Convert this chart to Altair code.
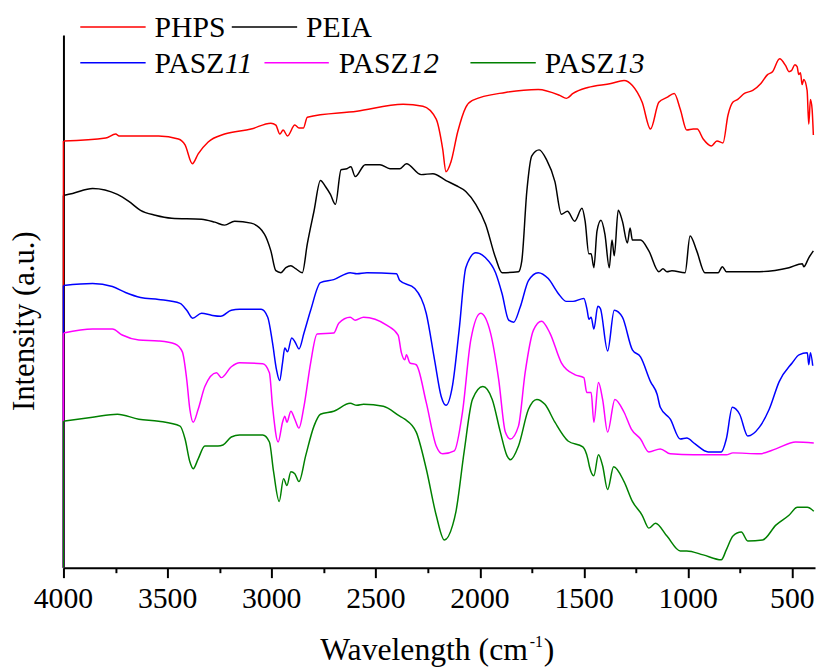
import altair as alt
import pandas as pd

# ---- data: (wavenumber cm-1, intensity a.u.) ----
PHPS = [(4000, 431), (3797, 434), (3749, 438), (3733, 436), (3543, 436), (3448, 433),
        (3416, 427), (3381, 408), (3353, 418), (3305, 430), (3226, 438), (3099, 443), (3004, 449),
        (2980, 447), (2961, 438), (2945, 442), (2924, 436), (2889, 447), (2869, 444), (2848, 444),
        (2829, 455), (2591, 461), (2369, 468), (2274, 466), (2210, 453), (2179, 423), (2163, 400),
        (2139, 410), (2107, 440), (2068, 465), (2036, 472), (1878, 480), (1720, 483), (1617, 477),
        (1585, 474), (1553, 479), (1482, 485), (1371, 489), (1308, 492), (1268, 487), (1221, 470),
        (1181, 443), (1141, 470), (1102, 475), (1067, 479), (1038, 463), (1007, 442), (976, 443),
        (957, 443), (928, 433), (889, 426), (862, 431), (833, 429), (809, 457), (786, 470),
        (762, 473), (730, 479), (690, 482), (651, 489), (619, 498), (595, 501), (561, 514),
        (532, 507), (516, 501), (504, 502), (488, 508), (477, 506), (469, 498), (461, 500),
        (453, 488), (445, 493), (429, 482), (421, 448), (413, 473), (405, 463), (399, 437)]

PEIA = [(4000, 376), (3956, 378), (3860, 383), (3741, 377), (3686, 370), (3630, 361),
        (3559, 356), (3480, 353), (3337, 352), (3273, 349), (3226, 346), (3178, 350), (3099, 348),
        (3035, 337), (3004, 320), (2980, 300), (2956, 298), (2932, 303), (2908, 305), (2885, 302),
        (2853, 298), (2829, 327), (2797, 360), (2766, 391), (2742, 385), (2718, 377), (2694, 367),
        (2667, 402), (2639, 403), (2620, 405), (2599, 395), (2551, 407), (2480, 407), (2432, 403),
        (2385, 403), (2353, 408), (2282, 397), (2226, 398), (2163, 391), (2115, 386), (2068, 380),
        (2020, 367), (1973, 347), (1925, 313), (1894, 298), (1815, 299), (1799, 310), (1775, 380),
        (1751, 416), (1716, 422), (1680, 412), (1640, 390), (1609, 357), (1580, 360), (1545, 350),
        (1510, 363), (1495, 350), (1477, 317), (1466, 317), (1453, 303), (1438, 340), (1419, 351),
        (1400, 337), (1379, 303), (1366, 331), (1355, 315), (1336, 361), (1316, 350), (1292, 328),
        (1279, 343), (1268, 331), (1229, 331), (1189, 320), (1141, 299), (1121, 302), (1102, 299),
        (1078, 300), (1015, 298), (991, 335), (959, 320), (920, 298), (856, 298), (836, 304),
        (817, 299), (658, 299), (516, 303), (452, 307), (445, 304), (421, 313), (399, 320)]

PASZ11 = [(4000, 285), (3860, 287), (3765, 284), (3702, 278), (3630, 273), (3543, 271),
          (3440, 267), (3408, 260), (3380, 252), (3337, 257), (3289, 255), (3245, 254), (3194, 260),
          (3154, 261), (3051, 261), (3019, 253), (2996, 227), (2977, 200), (2962, 189), (2948, 207),
          (2937, 222), (2924, 218), (2904, 232), (2888, 228), (2869, 221), (2845, 237), (2813, 260),
          (2766, 288), (2702, 291), (2623, 298), (2591, 297), (2543, 298), (2401, 297), (2385, 290),
          (2313, 282), (2258, 257), (2218, 210), (2186, 173), (2163, 164), (2131, 185), (2100, 240),
          (2068, 303), (2020, 318), (1973, 313), (1925, 298), (1894, 277), (1862, 250), (1838, 248),
          (1807, 263), (1767, 290), (1720, 298), (1672, 292), (1624, 277), (1585, 269), (1553, 269),
          (1501, 272), (1485, 260), (1477, 251), (1466, 253), (1453, 241), (1434, 264), (1422, 262),
          (1387, 219), (1355, 260), (1316, 253), (1268, 220), (1229, 213), (1181, 188), (1149, 175),
          (1134, 162), (1086, 150), (1038, 130), (1007, 131), (967, 125), (904, 117), (841, 117),
          (817, 130), (788, 162), (753, 155), (714, 133), (658, 142), (611, 160), (563, 188),
          (500, 207), (468, 215), (428, 217), (421, 205), (413, 217), (402, 204)]

PASZ12 = [(4000, 237), (3860, 241), (3765, 241), (3718, 235), (3638, 230), (3543, 229),
          (3464, 226), (3429, 218), (3408, 190), (3393, 160), (3377, 147), (3353, 160), (3321, 183),
          (3265, 197), (3242, 192), (3194, 203), (3154, 207), (3043, 206), (3011, 197), (2996, 163),
          (2969, 127), (2948, 147), (2937, 153), (2927, 147), (2908, 158), (2889, 150), (2869, 141),
          (2845, 163), (2813, 207), (2782, 236), (2702, 237), (2678, 247), (2623, 253), (2599, 250),
          (2559, 253), (2448, 245), (2393, 235), (2377, 217), (2361, 210), (2353, 215), (2337, 207),
          (2306, 205), (2258, 167), (2210, 123), (2179, 115), (2123, 118), (2084, 157), (2044, 230),
          (1997, 257), (1949, 237), (1910, 190), (1878, 137), (1854, 130), (1815, 143), (1783, 197),
          (1743, 240), (1704, 249), (1664, 237), (1609, 207), (1545, 195), (1501, 192), (1487, 177),
          (1466, 177), (1453, 147), (1431, 187), (1411, 170), (1387, 137), (1352, 170), (1308, 157),
          (1273, 140), (1229, 130), (1189, 117), (1134, 120), (1086, 115), (975, 114), (817, 114),
          (785, 116), (658, 115), (579, 120), (484, 127), (397, 126)]

PASZ13 = [(4000, 148), (3860, 152), (3741, 155), (3638, 150), (3543, 148), (3440, 143),
          (3416, 130), (3393, 107), (3377, 100), (3353, 110), (3321, 123), (3258, 123), (3234, 124),
          (3194, 132), (3154, 134), (3043, 134), (3011, 127), (2991, 97), (2964, 67), (2943, 90),
          (2927, 83), (2908, 97), (2889, 95), (2869, 87), (2837, 113), (2797, 143), (2766, 155),
          (2702, 158), (2623, 166), (2591, 164), (2559, 165), (2464, 163), (2385, 153), (2361, 150),
          (2306, 137), (2258, 100), (2210, 53), (2171, 28), (2131, 43), (2115, 57), (2076, 117),
          (2036, 170), (1986, 183), (1941, 170), (1902, 137), (1870, 113), (1854, 109), (1815, 123),
          (1767, 160), (1727, 170), (1688, 165), (1640, 147), (1577, 128), (1506, 122), (1482, 110),
          (1474, 102), (1453, 93), (1431, 114), (1411, 103), (1387, 79), (1358, 102), (1308, 87),
          (1268, 67), (1221, 53), (1189, 40), (1157, 45), (1102, 32), (1038, 17), (1007, 17),
          (928, 13), (841, 8), (817, 18), (785, 32), (745, 36), (714, 27), (643, 28), (579, 43),
          (516, 53), (476, 61), (428, 61), (397, 57)]

series_names = ["PHPS", "PEIA", "PASZ11", "PASZ12", "PASZ13"]
series_colors = ["#ff0000", "#000000", "#0000ff", "#ff00ff", "#008000"]
series_data = [PHPS, PEIA, PASZ11, PASZ12, PASZ13]
draw_order = ["PEIA", "PHPS", "PASZ11", "PASZ12", "PASZ13"]

x_ticks_all = [4000, 3750, 3500, 3250, 3000, 2750, 2500, 2250, 2000, 1750, 1500, 1250, 1000, 750, 500]
x_tick_labels = [4000, 3500, 3000, 2500, 2000, 1500, 1000, 500]

rows = []
for name, pts in zip(series_names, series_data):
    for i, (w, v) in enumerate(pts):
        rows.append({"series": name, "wn": w, "inten": v, "i": i})
df = pd.DataFrame(rows)

FONT = "Liberation Serif"
W, H = 759, 538

x_axis = alt.Axis(
    values=x_ticks_all, labels=False, title=None, grid=False,
    tickSize={"condition": {"test": "datum.value % 500 != 0", "value": 5}, "value": 10},
    tickWidth=2, tickColor="black", domainWidth=2, domainColor="black",
)
y_axis = alt.Axis(ticks=False, labels=False, grid=False, title=None,
                  domainWidth=2, domainColor="black")

xs = alt.Scale(domain=[4000, 391], nice=False, zero=False)
ys = alt.Scale(domain=[0, H], nice=False, zero=False)
X = alt.X("wn:Q", scale=xs, axis=x_axis)
Y = alt.Y("inten:Q", scale=ys, axis=y_axis)

layers = []
for name in draw_order:
    c = series_colors[series_names.index(name)]
    sub = df[df.series == name]
    start = sub[sub.i == 0].assign(base=0)
    # vertical drop of each trace to the baseline at 4000 cm-1
    layers.append(
        alt.Chart(start).mark_rule(color=c, strokeWidth=1.5).encode(
            x=X, y=Y, y2=alt.Y2("base:Q"))
    )
    layers.append(
        alt.Chart(sub).mark_line(color=c, strokeWidth=1.5, clip=True, interpolate="monotone").encode(
            x=X, y=Y, order=alt.Order("i:Q"))
    )

# ---- tick labels and axis titles as text marks ----
lab_df = pd.DataFrame({"wn": x_tick_labels, "lab": [str(v) for v in x_tick_labels]})
layers.append(alt.Chart(lab_df).mark_text(
    font=FONT, fontSize=30, color="black", align="center", baseline="alphabetic").encode(
    x=alt.X("wn:Q", scale=xs), y=alt.value(H + 41), text="lab:N"))

one = alt.InlineData(values=[{"k": 0}])

def txt(s, x, y, size=30, style="normal", align="left", angle=0):
    return alt.Chart(one).mark_text(
        font=FONT, fontSize=size, fontStyle=style, color="black", align=align,
        baseline="alphabetic", angle=angle).encode(
        x=alt.value(x), y=alt.value(y), text=alt.value(s))

layers.append(txt("Wavelength (cm", 469, 631, size=32, align="right"))
layers.append(txt("-1", 471, 618, size=16))
layers.append(txt(")", 485, 631, size=32))
layers.append(txt("Intensity (a.u.)", -30, 289, size=31, align="center", angle=270))

# ---- legend (two rows, placed above plot area) ----
legend_items = [
    # name, color, line x0, line x1, line y, text x, text y, italic suffix
    ("PHPS", "#ff0000", 17, 83, -8, 92, 2, ""),
    ("PEIA", "#000000", 170, 236, -8, 245, 2, ""),
    ("PASZ", "#0000ff", 17, 83, 28, 92, 38, "11"),
    ("PASZ", "#ff00ff", 203, 268, 28, 278, 38, "12"),
    ("PASZ", "#008000", 411, 477, 28, 486, 38, "13"),
]
for t, c, x0, x1, ly, tx, ty, ital in legend_items:
    layers.append(alt.Chart(one).mark_rule(color=c, strokeWidth=1.5).encode(
        x=alt.value(x0), x2=alt.value(x1), y=alt.value(ly)))
    layers.append(txt(t, tx, ty))
    if ital:
        layers.append(txt(ital, tx + 71, ty, style="italic"))

chart = alt.layer(*layers).properties(
    width=W, height=H,
    autosize=alt.AutoSizeParams(type="none"),
    padding={"left": 56, "top": 24, "right": 2, "bottom": 100},
).configure_view(stroke=None)

chart.save("out.html", embed_options={"renderer": "svg", "actions": False})
